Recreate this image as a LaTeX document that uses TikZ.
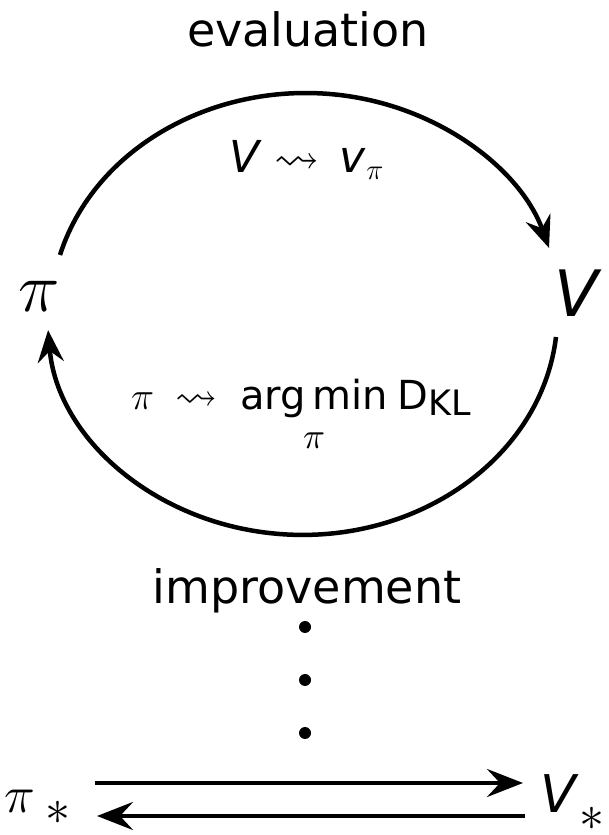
\documentclass[tikz,border=0pt]{standalone}
\usepackage{fix-cm}
\usepackage{graphicx}
\usepackage{amsmath}
\DeclareFontFamily{U}{msa}{}
\DeclareFontShape{U}{msa}{m}{n}{<-6>msam5<6-8>msam7<8->msam10}{}
\usepackage{amssymb}
\usepackage{fontspec}
\setmainfont{DejaVu Sans}
\usetikzlibrary{arrows.meta}
\tikzset{
  arcarr/.style={line width=4.5pt, -{Stealth[length=32pt,width=26pt,inset=11pt]}},
  strarr/.style={line width=4.5pt, -{Stealth[length=36pt,width=28pt,inset=13pt]}},
  word/.style={inner sep=0pt, anchor=base, font=\fontsize{46}{52}\selectfont},
  lblA/.style={inner sep=0pt, anchor=base west, font=\fontsize{44}{50}\selectfont},
  lblB/.style={inner sep=0pt, anchor=base west, font=\fontsize{40}{46}\selectfont},
  big/.style={inner sep=0pt, anchor=base, font=\fontsize{70}{80}\selectfont},
  bigV/.style={inner sep=0pt, anchor=base, font=\fontsize{64}{72}\selectfont},
  small/.style={inner sep=0pt, anchor=base west, font=\fontsize{52}{60}\selectfont},
  plain/.style={inner sep=0pt},
  dotc/.style={fill=black}
}
\newcommand{\itV}{\textit{V}}
\newcommand{\mystar}[1]{\raisebox{#1}{\fontsize{50}{50}\selectfont$\ast$}}
\newcommand{\wpi}[1]{\resizebox{#1}{!}{$\pi$}}
\newcommand{\wsq}[1]{\resizebox{#1}{!}{$\rightsquigarrow$}}
\begin{document}
\begin{tikzpicture}[x=1pt,y=1pt]
\useasboundingbox (0,0) rectangle (609,835);
% texts
\node[word] (eval) at (308,788) {evaluation};
\node[lblA] (lab1) at (229,662) {\itV\hspace{13pt}\wsq{45pt}\hspace{20pt}\textit{v}\raisebox{-7pt}{\wpi{17pt}}};
\node[big] (pi) at (39,523) {$\pi$};
\node[bigV] (V) at (578,518) {\itV};
\node[lblB] (lab2) at (131,425) {\wpi{23pt}\hspace{21pt}\wsq{42pt}\hspace{23pt}arg\,min\hspace{0.25em}D\raisebox{-6pt}{\fontsize{35}{35}\selectfont KL}};
\node[plain] (lab2sub) at (314,394) {\wpi{22pt}};
\node[word] (impr) at (307,231) {improvement};
\node[small] (pis) at (4,23) {$\pi$\kern11pt\mystar{-12pt}};
\node[small] (Vs) at (540,23) {\itV\kern1pt\mystar{-18pt}};
% arcs
\coordinate (ts) at (60,580);
\coordinate (bs) at (556,498);
\draw[arcarr] (ts) arc[start angle=164.5, end angle=17.4, x radius=255, y radius=221];
\draw[arcarr] (bs) arc[start angle=-6, end angle=-175.8, x radius=255, y radius=221];
% dots
\coordinate (d1) at (305,208);
\coordinate (d2) at (305,155);
\coordinate (d3) at (305,102);
\foreach \d in {d1,d2,d3} \fill[dotc] (\d) circle[radius=6];
% bottom arrows
\coordinate (u1) at (95,52);
\coordinate (u2) at (523,52);
\coordinate (l1) at (525,19);
\coordinate (l2) at (97,19);
\draw[strarr] (u1) -- (u2);
\draw[strarr] (l1) -- (l2);
\end{tikzpicture}
\end{document}
